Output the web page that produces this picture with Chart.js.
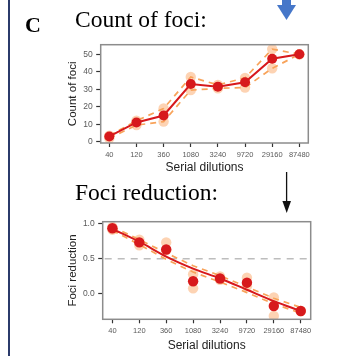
<!DOCTYPE html>
<html>
<head>
<meta charset="utf-8">
<script src="https://cdn.jsdelivr.net/npm/chart.js@4/dist/chart.umd.min.js"></script>
<style>
  html, body { margin: 0; padding: 0; background: #fff; }
  body { width: 357px; height: 356px; position: relative; overflow: hidden; }
  canvas { position: absolute; }
  #deco { position: absolute; left: 0; top: 0; }
</style>
</head>
<body>
<canvas id="countChart" width="270" height="142" style="left:50px; top:36px;"></canvas>
<canvas id="reductionChart" width="272" height="142" style="left:50px; top:212px;"></canvas>
<svg id="deco" width="357" height="356">
  <rect x="8" y="0" width="2" height="356" fill="#2b3b6b"/>
  <text x="25" y="31.5" font-family="Liberation Serif" font-weight="bold" font-size="22">C</text>
  <text x="75" y="26.7" font-family="Liberation Serif" font-size="23.5">Count of foci:</text>
  <text x="75" y="199.5" font-family="Liberation Serif" font-size="23.5">Foci reduction:</text>
  <rect x="282" y="0" width="9" height="5" fill="#4677c9"/>
  <polygon points="277,5 296,5 286.5,20" fill="#4677c9"/>
  <line x1="286.6" y1="172" x2="286.6" y2="203" stroke="#111" stroke-width="1.3"/>
  <polygon points="282.4,201 291,201 286.7,213" fill="#111"/>
</svg>
<script>
// dilution steps on the x axis
const dilutions = ['40', '120', '360', '1080', '3240', '9720', '29160', '87480'];

// Count of foci
const countMean = [3, 11, 15, 33, 31.5, 34, 47.5, 50];
const countRepA = [3.5, 12, 19, 37, 32.5, 36.5, 53, 50];
const countRepB = [2, 9.5, 11.5, 29.5, 30.5, 31, 42, 50];
const countTicks = [0, 10, 20, 30, 40, 50];

// Foci reduction
const reductionMean = [0.93, 0.73, 0.63, 0.18, 0.22, 0.16, -0.17, -0.24];
const reductionRepA = [0.95, 0.77, 0.73, 0.28, 0.25, 0.23, -0.05, -0.24];
const reductionRepB = [0.91, 0.69, 0.62, 0.08, 0.20, 0.11, -0.31, -0.24];
const reductionFit = [0.92, 0.74, 0.53, 0.36, 0.22, 0.06, -0.10, -0.24];
const reductionFitHi = [0.95, 0.77, 0.58, 0.40, 0.26, 0.10, -0.06, -0.19];
const reductionFitLo = [0.90, 0.70, 0.49, 0.31, 0.17, 0.02, -0.14, -0.27];
const reductionTicks = [0, 0.5, 1];
const reductionThreshold = 0.5;

const RED = '#d7191c';
const PEACH = 'rgba(252, 188, 138, 0.65)';
const ORANGE = '#f8a35a';

const toPoints = arr => arr.map((v, i) => ({ x: i, y: v }));

const frame = {
  id: 'frame',
  afterDatasetsDraw(chart) {
    const { ctx, chartArea: a } = chart;
    ctx.save();
    ctx.strokeStyle = '#8c8c8c';
    ctx.lineWidth = 1.5;
    ctx.strokeRect(a.left, a.top, a.right - a.left, a.bottom - a.top);
    ctx.restore();
  }
};

const refLine = {
  id: 'refLine',
  beforeDatasetsDraw(chart, args, opts) {
    if (opts.value === undefined) return;
    const { ctx, chartArea: a } = chart;
    const y = chart.scales.y.getPixelForValue(opts.value);
    ctx.save();
    ctx.strokeStyle = '#bdbdbd';
    ctx.lineWidth = 1.5;
    ctx.setLineDash([7, 6]);
    ctx.beginPath();
    ctx.moveTo(a.left + 2, y);
    ctx.lineTo(a.right - 2, y);
    ctx.stroke();
    ctx.restore();
  }
};

function pointSet(data, color, r, order) {
  return { data: toPoints(data), showLine: false, pointRadius: r, pointBackgroundColor: color,
           pointBorderWidth: 0, order };
}
function dashSet(data, order) {
  return { data: toPoints(data), showLine: true, pointRadius: 0, borderColor: ORANGE,
           borderWidth: 1.7, borderDash: [6, 5], order };
}

function makeChart(id, datasets, o) {
  return new Chart(document.getElementById(id), {
    type: 'scatter',
    data: { datasets },
    plugins: [frame, refLine],
    options: {
      responsive: false,
      animation: false,
      devicePixelRatio: 1,
      layout: { padding: { left: 0, right: o.padRight, top: o.padTop, bottom: 0 } },
      plugins: { legend: { display: false }, tooltip: { enabled: false }, refLine: { value: o.refValue } },
      scales: {
        x: {
          type: 'linear', min: o.xMin, max: o.xMax,
          afterBuildTicks: s => { s.ticks = dilutions.map((d, i) => ({ value: i })); },
          afterFit: s => { s.height = o.xHeight; },
          grid: { drawOnChartArea: false, tickLength: 4, tickColor: '#333', tickWidth: 1.2 },
          border: { display: false },
          ticks: { padding: 3, color: '#5a5a5a', font: { family: 'Liberation Sans', size: 7.5 },
                   maxRotation: 0, autoSkip: false, callback: v => dilutions[v] },
          title: { display: true, text: 'Serial dilutions', color: '#222',
                   font: { family: 'Liberation Sans', size: 12 }, padding: { top: 0, bottom: o.xTitlePad } }
        },
        y: {
          min: o.yMin, max: o.yMax,
          afterBuildTicks: s => { s.ticks = o.yTicks.map(v => ({ value: v })); },
          afterFit: s => { s.width = o.yWidth; },
          grid: { drawOnChartArea: false, tickLength: 4.5, tickColor: '#333', tickWidth: 1.2 },
          border: { display: false },
          ticks: { padding: 3.5, color: '#5a5a5a', font: { family: 'Liberation Sans', size: 8.5 },
                   callback: o.yFormat },
          title: { display: true, text: o.yTitle, color: '#222',
                   font: { family: 'Liberation Sans', size: 11.5 }, padding: { top: o.yTitlePad, bottom: 0 } }
        }
      }
    }
  });
}

makeChart('countChart', [
  pointSet(countMean, RED, 5, 1),
  { data: toPoints(countMean), showLine: true, pointRadius: 0, borderColor: RED, borderWidth: 2, order: 2 },
  dashSet(countRepA, 3),
  dashSet(countRepB, 3),
  pointSet(countRepA, PEACH, 5.2, 4),
  pointSet(countRepB, PEACH, 5.2, 4)
], {
  xMin: -0.317, xMax: 7.33, yMin: -0.74, yMax: 55.5, yTicks: countTicks,
  yFormat: v => String(v), yTitle: 'Count of foci',
  padRight: 11.7, padTop: 8.7, xHeight: 35, yWidth: 50.7, xTitlePad: 2.8, yTitlePad: 16
});

makeChart('reductionChart', [
  pointSet(reductionMean, RED, 5.2, 1),
  { data: toPoints(reductionFit), showLine: true, pointRadius: 0, borderColor: RED, borderWidth: 2,
    cubicInterpolationMode: 'monotone', order: 2 },
  dashSet(reductionFitHi, 3),
  dashSet(reductionFitLo, 3),
  pointSet(reductionRepA, PEACH, 5.2, 4),
  pointSet(reductionRepB, PEACH, 5.2, 4)
], {
  xMin: -0.36, xMax: 7.37, yMin: -0.358, yMax: 1.023, yTicks: reductionTicks,
  yFormat: v => v.toFixed(1), yTitle: 'Foci reduction', refValue: reductionThreshold,
  padRight: 11.3, padTop: 9.7, xHeight: 34.7, yWidth: 52.7, xTitlePad: 0.8, yTitlePad: 15.6
});
</script>
</body>
</html>
